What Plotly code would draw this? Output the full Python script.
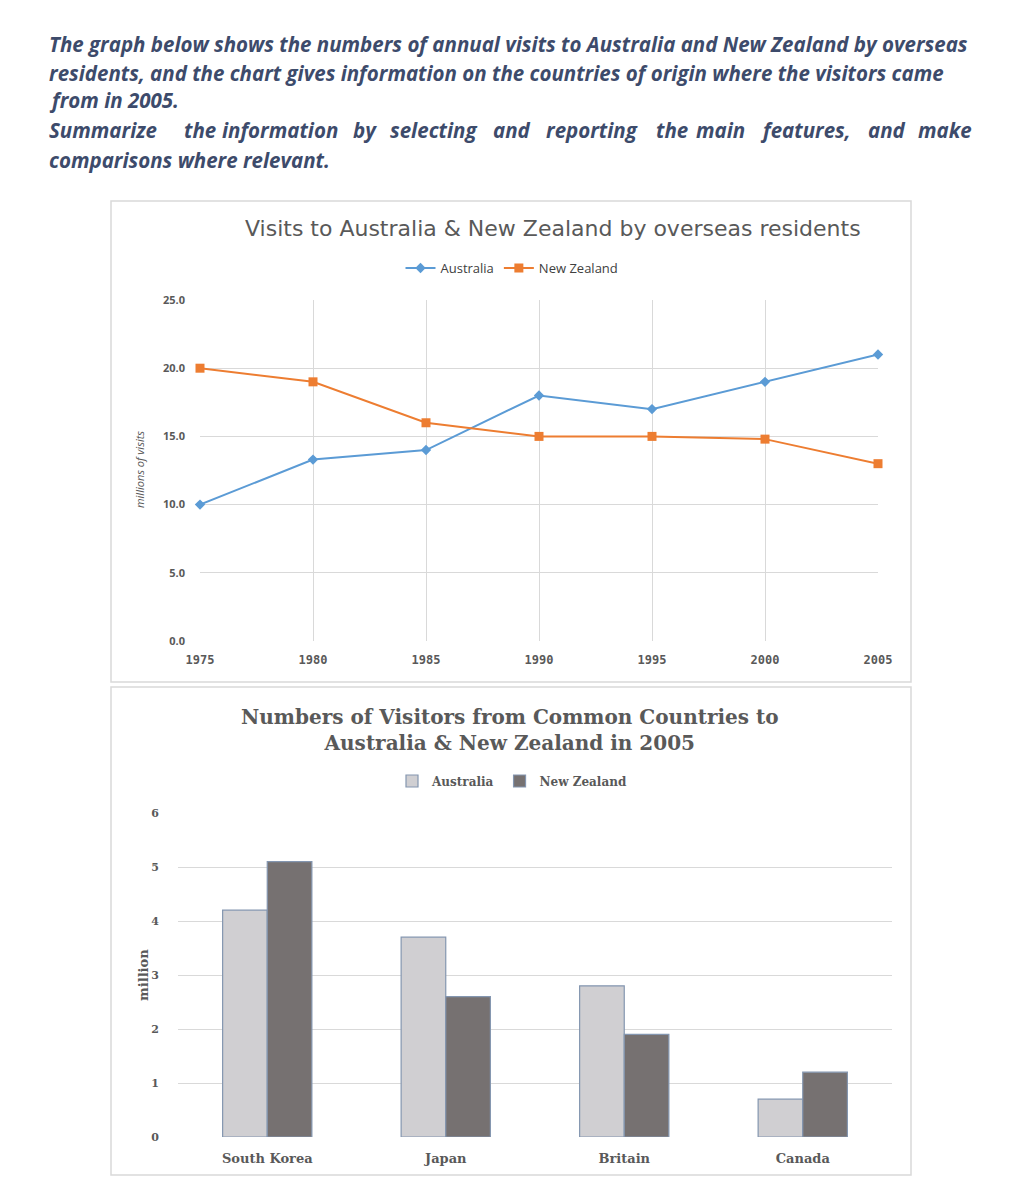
import plotly.graph_objects as go

# ---------------- data ----------------
years = [1975, 1980, 1985, 1990, 1995, 2000, 2005]
australia_visits = [10.0, 13.3, 14.0, 18.0, 17.0, 19.0, 21.0]
nz_visits = [20.0, 19.0, 16.0, 15.0, 15.0, 14.8, 13.0]
line_y_ticks = [0, 5, 10, 15, 20, 25]
line_y_labels = ["0.0", "5.0", "10.0", "15.0", "20.0", "25.0"]

countries = ["South Korea", "Japan", "Britain", "Canada"]
aus_2005 = [4.2, 3.7, 2.8, 0.7]
nz_2005 = [5.1, 2.6, 1.9, 1.2]
bar_y_ticks = [0, 1, 2, 3, 4, 5, 6]

# page has an 8px body margin; figure sized so it fills the window exactly
OFF = 8
W, H = 1024 - OFF, 1190 - OFF


def px(x):
    return (x - OFF) / W


def py(y):
    return 1 - (y - OFF) / H


HEAD_COLOR = "#3d4b6b"
HEAD_FONT = "Open Sans, Lato, sans-serif"
SERIF = "DejaVu Serif, Liberation Serif, serif"
SANS = "Open Sans, DejaVu Sans, sans-serif"

fig = go.Figure()

# ---------------- line chart ----------------
fig.add_trace(go.Scatter(
    x=years, y=australia_visits, name="Australia", mode="lines+markers",
    line=dict(color="#5b9bd5", width=2),
    marker=dict(symbol="diamond", size=8, color="#5b9bd5"),
    xaxis="x", yaxis="y", legend="legend", cliponaxis=False,
))
fig.add_trace(go.Scatter(
    x=years, y=nz_visits, name="New Zealand", mode="lines+markers",
    line=dict(color="#ed7d31", width=2),
    marker=dict(symbol="square", size=9, color="#ed7d31"),
    xaxis="x", yaxis="y", legend="legend", cliponaxis=False,
))

# ---------------- bar chart ----------------
fig.add_trace(go.Bar(
    x=countries, y=aus_2005, name="Australia",
    marker=dict(color="#d0cfd2", line=dict(color="#8496b0", width=1.2)),
    xaxis="x2", yaxis="y2", legend="legend2",
))
fig.add_trace(go.Bar(
    x=countries, y=nz_2005, name="New Zealand",
    marker=dict(color="#767171", line=dict(color="#8496b0", width=1.2)),
    xaxis="x2", yaxis="y2", legend="legend2",
))

annotations = []
# header text
head_lines = [
    (44, "The graph below shows the numbers of annual visits to Australia and New Zealand by overseas"),
    (73, "residents, and the chart gives information on the countries of origin where the visitors came"),
    (100, "from in 2005."),
    (160, "comparisons where relevant."),
]
for yy, txt in head_lines:
    annotations.append(dict(
        x=px(47), y=py(yy), xref="paper", yref="paper", xanchor="left", yanchor="middle",
        text="<b><i>" + txt + "</i></b>", showarrow=False,
        font=dict(family=HEAD_FONT, size=20.5, color=HEAD_COLOR),
    ))
# justified line (first word left-aligned, last right-aligned, others centred)
words4 = ["Summarize", "the", "information", "by", "selecting", "and", "reporting",
          "the", "main", "features,", "and", "make"]
xs4 = [47, 200, 280, 365, 433, 512, 592, 672, 720, 805, 887, 974]
anchors4 = ["left"] + ["center"] * 10 + ["right"]
for w, xx, an in zip(words4, xs4, anchors4):
    annotations.append(dict(
        x=px(xx), y=py(130), xref="paper", yref="paper", xanchor=an, yanchor="middle",
        text="<b><i>" + w + "</i></b>", showarrow=False,
        font=dict(family=HEAD_FONT, size=20.5, color=HEAD_COLOR),
    ))

# line chart title
annotations.append(dict(
    x=px(553), y=py(228), xref="paper", yref="paper", xanchor="center", yanchor="middle",
    text="Visits to Australia &amp; New Zealand by overseas residents", showarrow=False,
    font=dict(family="DejaVu Sans, sans-serif", size=22, color="#595959"),
))
annotations.append(dict(
    x=px(140), y=py(470), xref="paper", yref="paper", xanchor="center", yanchor="middle",
    text="<i>millions of visits</i>", showarrow=False, textangle=-90,
    font=dict(family=SANS, size=11, color="#595959"),
))
# bar chart title
annotations.append(dict(
    x=px(510), y=py(730), xref="paper", yref="paper", xanchor="center", yanchor="middle",
    text="<b>Numbers of Visitors from Common Countries to<br>Australia &amp; New Zealand in 2005</b>",
    showarrow=False,
    font=dict(family=SERIF, size=20, color="#595959"),
))
annotations.append(dict(
    x=px(143), y=py(975), xref="paper", yref="paper", xanchor="center", yanchor="middle",
    text="<b>million</b>", showarrow=False, textangle=-90,
    font=dict(family=SERIF, size=13, color="#595959"),
))

shapes = [
    dict(type="rect", xref="paper", yref="paper", x0=px(111), x1=px(911), y0=py(201), y1=py(682),
         line=dict(color="#d9d9d9", width=1.5), fillcolor="rgba(0,0,0,0)", layer="below"),
    dict(type="rect", xref="paper", yref="paper", x0=px(111), x1=px(911), y0=py(687), y1=py(1175),
         line=dict(color="#d9d9d9", width=1.5), fillcolor="rgba(0,0,0,0)", layer="below"),
]

fig.update_layout(
    width=W, height=H,
    margin=dict(l=0, r=0, t=0, b=0, autoexpand=False),
    paper_bgcolor="white", plot_bgcolor="white",
    barmode="group", bargap=0.5, bargroupgap=0,
    annotations=annotations, shapes=shapes,
    xaxis=dict(
        domain=[px(200), px(878)], range=[1975, 2005], anchor="y",
        tickmode="array", tickvals=years, ticktext=[str(y) for y in years],
        showgrid=True, gridcolor="#d9d9d9", gridwidth=1, zeroline=False,
        showline=False, ticks="", ticklabelstandoff=10, automargin=False,
        tickfont=dict(family="DejaVu Sans Mono, monospace", size=12, color="#595959", weight="bold"),
    ),
    yaxis=dict(
        domain=[py(641), py(300)], range=[0, 25], anchor="x",
        tickmode="array", tickvals=line_y_ticks, ticktext=line_y_labels,
        showgrid=True, gridcolor="#d9d9d9", gridwidth=1, zeroline=False,
        showline=False, ticks="", ticklabelstandoff=14, automargin=False,
        tickfont=dict(family=SANS, size=11, color="#595959", weight="bold"),
    ),
    xaxis2=dict(
        domain=[px(178), px(892)], anchor="y2", type="category",
        showgrid=False, zeroline=False, showline=False, ticks="", ticklabelstandoff=12,
        automargin=False,
        tickfont=dict(family=SERIF, size=13, color="#595959", weight="bold"),
    ),
    yaxis2=dict(
        domain=[py(1137), py(813)], range=[0, 6], anchor="x2",
        tickmode="array", tickvals=bar_y_ticks,
        showgrid=True, gridcolor="#d9d9d9", gridwidth=1, zeroline=False,
        showline=False, ticks="", ticklabelstandoff=18, automargin=False,
        tickfont=dict(family=SERIF, size=11, color="#595959", weight="bold"),
    ),
    legend=dict(
        orientation="h", x=px(512), y=py(268), xanchor="center", yanchor="middle",
        font=dict(family=SANS, size=13, color="#404040"), bgcolor="rgba(0,0,0,0)",
        itemwidth=30, tracegroupgap=0,
    ),
    legend2=dict(
        orientation="h", x=px(512), y=py(781), xanchor="center", yanchor="middle",
        font=dict(family=SERIF, size=12, color="#595959", weight="bold"), bgcolor="rgba(0,0,0,0)",
        itemwidth=30,
    ),
    showlegend=True,
)

fig.write_html("out.html")
